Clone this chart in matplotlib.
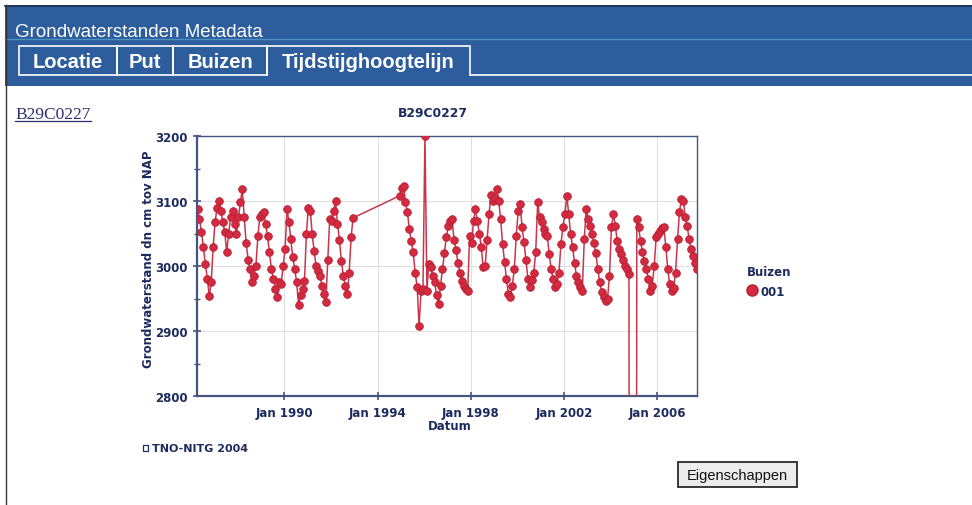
import datetime as dt
import pandas as pd
import matplotlib
matplotlib.use('Agg')
import matplotlib.pyplot as plt
import matplotlib.dates as mdates
from matplotlib.patches import Rectangle
from matplotlib.lines import Line2D

# Grondwaterstand B29C0227, filter 001 (dm cm tov NAP), monthly readings
SERIES_1_START = '1986-04'
SERIES_1 = [
    3088, 3072, 3052, 3029, 3003, 2980, 2954, 2975, 3030,                    # 1986 apr-dec
    3068, 3090, 3100, 3085, 3068, 3052, 3021, 3050, 3075, 3085, 3065, 3049,  # 1987
    3075, 3098, 3118, 3075, 3035, 3010, 2995, 2975, 2985, 3000, 3046, 3075,  # 1988
    3080, 3083, 3065, 3046, 3021, 2995, 2980, 2965, 2952, 2975, 2972, 3000,  # 1989
    3026, 3088, 3068, 3041, 3014, 2995, 2975, 2940, 2955, 2965, 2977, 3050,  # 1990
    3090, 3085, 3049, 3023, 3000, 2992, 2985, 2970, 2957, 2944, 3010, 3072,  # 1991
    3070, 3085, 3100, 3065, 3040, 3008, 2985, 2970, 2957, 2990, 3045, 3074,  # 1992
]
SERIES_2_START = '1994-12'
SERIES_2 = [
    3108,                                                                    # 1994 dec
    3120, 3123, 3098, 3083, 3057, 3038, 3021, 2990, 2968, 2908, 2962, 2965,  # 1995
    3200, 2962, 3003, 2998, 2985, 2975, 2955, 2942, 2970, 2995, 3020, 3045,  # 1996
    3062, 3070, 3072, 3040, 3025, 3005, 2990, 2977, 2970, 2965, 2962, 3046,  # 1997
    3035, 3070, 3088, 3070, 3050, 3030, 2998, 3000, 3040, 3080, 3110, 3100,  # 1998
    3105, 3118, 3100, 3072, 3034, 3006, 2980, 2957, 2952, 2970, 2995, 3046,  # 1999
    3085, 3095, 3060, 3037, 3010, 2980, 2967, 2978, 2990, 3021, 3098, 3075,  # 2000
    3068, 3057, 3050, 3046, 3018, 2995, 2980, 2967, 2972, 2990, 3034, 3060,  # 2001
    3080, 3108, 3080, 3050, 3030, 3005, 2985, 2975, 2968, 2962, 3041, 3088,  # 2002
    3072, 3062, 3050, 3035, 3020, 2995, 2975, 2960, 2952, 2946, 2950, 2985,  # 2003
    3060, 3080, 3062, 3038, 3026, 3018, 3010, 3000, 2995, 2988, 0, 0,        # 2004
    0, 3072, 3060, 3038, 3021, 3008, 2995, 2980, 2962, 2970, 3000, 3045,     # 2005
    3050, 3054, 3058, 3060, 3030, 2995, 2972, 2962, 2966, 2990, 3041, 3083,  # 2006
    3103, 3100, 3075, 3062, 3041, 3026, 3016, 3005, 2995,                    # 2007 jan-sep
]
TICK_YEARS = [1990, 1994, 1998, 2002, 2006]
Y_TICKS = [2800, 2900, 3000, 3100, 3200]
TABS = ['Locatie', 'Put', 'Buizen', 'Tijdstijghoogtelijn']

NAVY = '#1c2b5e'
AXIS_COL = '#44557f'
RED = '#d42a40'


def monthly(start, values):
    idx = pd.date_range(start=start + '-01', periods=len(values), freq='MS')
    return list(idx + pd.Timedelta(days=13))


dates = monthly(SERIES_1_START, SERIES_1) + monthly(SERIES_2_START, SERIES_2)
levels = SERIES_1 + SERIES_2

W, H = 972, 506
fig = plt.figure(figsize=(W / 100, H / 100), dpi=100)

# page background in pixel coordinates
bg = fig.add_axes([0, 0, 1, 1])
bg.set_xlim(0, W)
bg.set_ylim(H, 0)
bg.axis('off')

bg.add_patch(Rectangle((5, 6), W - 5, 81, facecolor='#2d5d9c', edgecolor='none'))
bg.plot([5, W], [6.5, 6.5], color='#1d3355', lw=1.2)
bg.plot([5, W], [40, 40], color='#4d93c2', lw=1.0)
bg.plot([5.5, 5.5], [6, H], color='#333333', lw=1.0)
bg.text(15, 32, 'Grondwaterstanden Metadata', color='white', fontsize=13.5,
        family='Liberation Sans', va='center', ha='left')

tab_edges = [19, 117, 173, 267, 470]
for i, name in enumerate(TABS):
    x0, x1 = tab_edges[i], tab_edges[i + 1]
    if i < len(TABS) - 1:
        bg.add_patch(Rectangle((x0, 47), x1 - x0, 29, facecolor='none',
                               edgecolor='white', lw=1.2))
    else:
        bg.plot([x0, x0, x1, x1], [76, 47, 47, 76], color='white', lw=1.2)
    bg.text((x0 + x1) / 2, 62, name, color='white', fontsize=14.5, fontweight='bold',
            family='Liberation Sans', ha='center', va='center')
bg.plot([470, W], [76, 76], color='white', lw=1.2)

# link and chart title
bg.text(15, 115, 'B29C0227', color='#2e2e70', fontsize=12.5, family='Liberation Serif',
        ha='left', va='center')
bg.plot([15, 91], [122, 122], color='#2e2e70', lw=0.9)
bg.text(433, 113, 'B29C0227', color=NAVY, fontsize=8.8, fontweight='bold',
        ha='center', va='center')

bg.text(148, 259, 'Grondwaterstand dn cm tov NAP', color=NAVY, fontsize=8.5,
        fontweight='bold', rotation=90, ha='center', va='center')
bg.text(450, 427, 'Datum', color=NAVY, fontsize=8.5, fontweight='bold',
        ha='center', va='center')

# legend
bg.text(747, 272, 'Buizen', color=NAVY, fontsize=8.5, fontweight='bold',
        ha='left', va='center')
bg.add_line(Line2D([752], [291], marker='o', ms=8, color=RED, mec='#b51e33'))
bg.text(760, 292, '001', color=NAVY, fontsize=8.5, fontweight='bold',
        ha='left', va='center')

# footer note and button
bg.add_patch(Rectangle((143, 446), 5, 5.5, facecolor='none', edgecolor=NAVY, lw=0.9))
bg.text(152, 449, 'TNO-NITG 2004', color=NAVY, fontsize=8, fontweight='bold',
        ha='left', va='center')
bg.add_patch(Rectangle((678, 463), 119, 25, facecolor='#ececec', edgecolor='#2a2a2a', lw=1.3))
bg.text(737.5, 476, 'Eigenschappen', color='#111111', fontsize=10.5,
        family='Liberation Sans', ha='center', va='center')

# chart
ax = fig.add_axes([197 / W, 1 - 397 / H, 500 / W, 260 / H])
ax.plot(dates, levels, color='#c8364c', lw=1.1, marker='o', ms=5.5,
        mfc=RED, mec='#b51e33', mew=0.6, zorder=3)

ax.set_xlim(dt.datetime(1986, 4, 5), dt.datetime(2007, 9, 15))
ax.set_ylim(2800, 3200)
ax.set_xticks([dt.datetime(y, 1, 1) for y in TICK_YEARS])
ax.xaxis.set_major_formatter(mdates.DateFormatter('%b %Y'))
ax.set_yticks(Y_TICKS)
ax.set_yticks([2850, 2950, 3050, 3150], minor=True)
ax.grid(True, color='#e0e0e0', lw=0.8, zorder=0)

for side, sp in ax.spines.items():
    sp.set_color(AXIS_COL)
    sp.set_linewidth(1.0 if side in ('top', 'right') else 1.6)

ax.tick_params(axis='both', which='major', direction='inout', length=6, width=1.2,
               color=AXIS_COL, labelcolor=NAVY, labelsize=8.5, pad=4)
ax.tick_params(axis='y', which='minor', direction='inout', length=4, width=1.0,
               color=AXIS_COL)
for lab in ax.get_xticklabels() + ax.get_yticklabels():
    lab.set_fontweight('bold')

fig.savefig('out.png', dpi=100)
